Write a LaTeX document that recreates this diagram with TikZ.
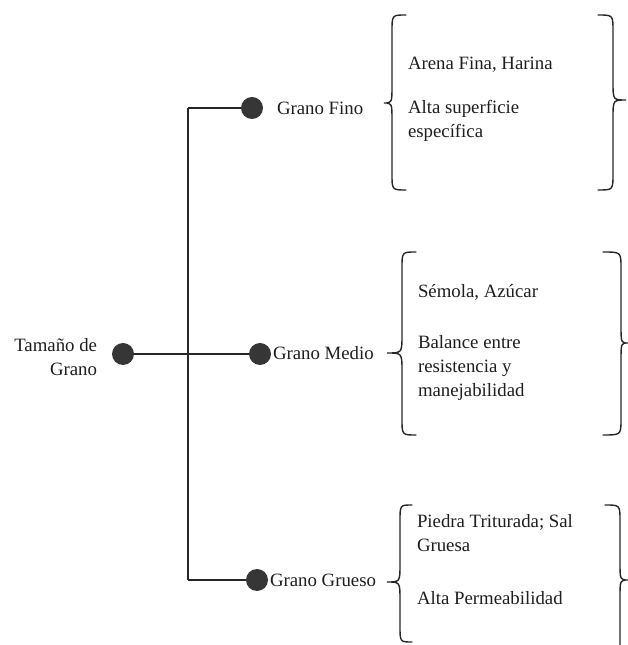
\documentclass[tikz,border=0pt]{standalone}
\usepackage{fontspec}
\setmainfont{Liberation Serif}
\definecolor{ink}{HTML}{1E1E1E}
\definecolor{dotgray}{HTML}{363636}
\definecolor{linegray}{HTML}{262626}

% curly brace: #1 end x, #2 stem x, #3 tip x, #4 top y, #5 tip y, #6 bottom y
\newcommand\curlybrace[6]{%
  \draw[bracestyle]
    (#1,#4) .. controls (#2,#4) .. ({#2},{#4-16})
    -- ({#2},{#5+18}) .. controls (#2,#5) .. (#3,#5)
    .. controls (#2,#5) .. ({#2},{#5-18})
    -- ({#2},{#6+16}) .. controls (#2,#6) .. (#1,#6);}

\begin{document}
\begin{tikzpicture}[x=1pt,y=1pt,
  every node/.style={inner sep=0pt, outer sep=0pt, text=ink,
    font=\fontsize{18.8}{24}\selectfont},
  dot/.style={circle, fill=dotgray, minimum size=22pt},
  label/.style={anchor=west},
  info/.style={anchor=west, align=left},
  link/.style={draw=linegray, line width=1.3pt},
  bracestyle/.style={draw=linegray, line width=1.4pt, line cap=round}]
\useasboundingbox (0,0) rectangle (627,645);

% tree of grain sizes
\node[dot] (root) at (123,291) {};
\node[anchor=east, align=right] (rootlabel) at (97,287.5) {Tamaño de\\Grano};

\node[dot] (fino) at (252,537) {};
\node[dot] (medio) at (260,291) {};
\node[dot] (grueso) at (257,65) {};

\coordinate (jtop) at (188,537);
\coordinate (jbot) at (188,65);

\draw[link] (root) -- (medio);
\draw[link] (jtop) -- (jbot);
\draw[link] (jtop) -- (fino);
\draw[link] (jbot) -- (grueso);

\node[label] (finolabel) at (277,537) {Grano Fino};
\node[label] (mediolabel) at (273,292) {Grano Medio};
\node[label] (gruesolabel) at (270,65) {Grano Grueso};

% fine grain details
\curlybrace{406}{392}{384}{630}{542}{455}
\curlybrace{598}{613}{626}{630}{545}{455}
\node[info] (finoej) at (408,580) {Arena Fina, Harina};
\node[info] (finoprop) at (408,524) {Alta superficie\\específica};

% medium grain details
\curlybrace{416}{402}{387}{393}{292}{210}
\curlybrace{603}{621}{628}{393}{302}{210}
\node[info] (medioej) at (418,353) {Sémola, Azúcar};
\node[info] (medioprop) at (418,277) {Balance entre\\resistencia y\\manejabilidad};

% coarse grain details
\curlybrace{412}{400}{387}{140}{63}{3}
\curlybrace{605}{620}{628}{140}{65}{-12}
\node[info] (gruesoej) at (417,111.5) {Piedra Triturada; Sal\\Gruesa};
\node[info] (gruesoprop) at (417,47) {Alta Permeabilidad};
\end{tikzpicture}
\end{document}
